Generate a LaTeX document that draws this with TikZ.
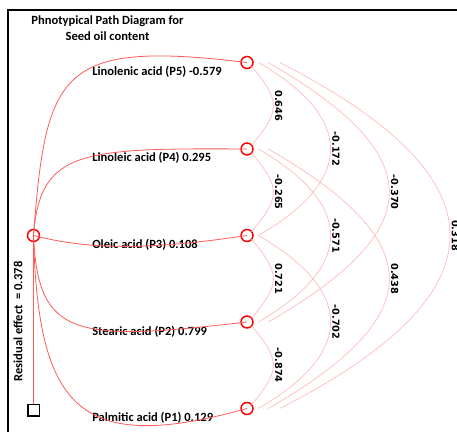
\documentclass[tikz,border=0pt]{standalone}
\usepackage{fontspec}
\setmainfont{Carlito}
\newfontfamily\numfont{DejaVu Sans}
\usepackage{xcolor}
\usepackage{tikz}
\usetikzlibrary{positioning}

\definecolor{pathred}{RGB}{255,90,90}
\definecolor{corrred}{RGB}{255,185,185}

\begin{document}
\begin{tikzpicture}[
    x=0.75pt, y=0.75pt,
    node distance=55.875pt,
    trait/.style={circle,draw=red,line width=1.1pt,minimum size=9pt,
        inner sep=0pt,outer sep=0pt},
    errbox/.style={rectangle,draw=black,line width=1pt,minimum size=8.5pt,
        inner sep=0pt},
    traitname/.style={anchor=west,inner sep=0pt,
        font=\bfseries\fontsize{9.4}{11}\selectfont},
    effect/.style={draw=pathred,line width=0.6pt},
    corr/.style={draw=corrred,line width=0.5pt},
    coef/.style={midway,anchor=south,rotate=-90,inner sep=1pt,
        font=\numfont\bfseries\fontsize{7.3}{8}\selectfont}
]
\useasboundingbox (0,0) rectangle (457,432);
\draw[line width=1pt] (8,-5) -- (8,422) -- (465,422);

\node[align=center,font=\bfseries\fontsize{9.4}{12}\selectfont] (title)
    at (107.5,404) {Phnotypical Path Diagram for\\Seed oil content};

\node[trait] (res) at (33.5,196.5) {};
\node[errbox] (err) at (33.5,21.5) {};
\node[rotate=90,inner sep=0pt,font=\bfseries\fontsize{9.4}{11}\selectfont]
    (resval) at (18,110.5) {Residual effect\ \ = 0.378};

\node[trait] (p5) at (247,369.5) {};
\node[trait,below=of p5] (p4) {};
\node[trait,below=of p4] (p3) {};
\node[trait,below=of p3] (p2) {};
\node[trait,below=of p2] (p1) {};

\node[traitname] (n5) at (92,360.5) {Linolenic acid (P5) -0.579};
\node[traitname] (n4) at (92,274) {Linoleic acid (P4) 0.295};
\node[traitname] (n3) at (92,187) {Oleic acid (P3) 0.108};
\node[traitname] (n2) at (92,100) {Stearic acid (P2) 0.799};
\node[traitname] (n1) at (92,14) {Palmitic acid (P1) 0.129};

% direct paths
\draw[effect] (res.center) .. controls +(12.5,165.5) and +(-187,22.5) .. (p5.center);
\draw[effect] (res.center) .. controls +(6.5,85.5) and +(-167,1) .. (p4.center);
\draw[effect] (res.center) .. controls +(56.5,-14.5) and +(-97,-14.5) .. (p3.center);
\draw[effect] (res.center) .. controls +(4.5,-102.5) and +(-172,-20) .. (p2.center);
\draw[effect] (res.center) .. controls +(4.5,-174.5) and +(-167,-46.5) .. (p1.center);
\draw[effect] (res.center) -- (err);

% correlations
\draw[corr] (p5.-40) to[out=-50,in=50,looseness=1.47] node[coef] {0.646} (p4.40);
\draw[corr] (p4.-40) to[out=-50,in=50,looseness=1.47] node[coef] {-0.265} (p3.40);
\draw[corr] (p3.-40) to[out=-50,in=50,looseness=1.47] node[coef] {0.721} (p2.40);
\draw[corr] (p2.-40) to[out=-50,in=50,looseness=1.47] node[coef] {-0.874} (p1.40);

\draw[corr] ([xshift=8.5pt]p5.center) to[out=-30,in=30,looseness=1.65]
    node[coef] {-0.172} ([xshift=8.5pt]p3.center);
\draw[corr] ([xshift=8.5pt]p4.center) to[out=-30,in=30,looseness=1.65]
    node[coef] {-0.571} ([xshift=8.5pt]p2.center);
\draw[corr] ([xshift=8.5pt]p3.center) to[out=-30,in=30,looseness=1.65]
    node[coef] {-0.702} ([xshift=8.5pt]p1.center);

\draw[corr] ([xshift=16pt]p5.center) to[out=-30,in=30,looseness=1.84]
    node[coef] {-0.370} ([xshift=16pt]p2.center);
\draw[corr] ([xshift=16pt]p4.center) to[out=-30,in=30,looseness=1.84]
    node[coef] {0.438} ([xshift=16pt]p1.center);

\draw[corr] ([xshift=24.5pt]p5.center) to[out=-27,in=27,looseness=1.89]
    node[coef] {0.318} ([xshift=24.5pt]p1.center);
\end{tikzpicture}
\end{document}
